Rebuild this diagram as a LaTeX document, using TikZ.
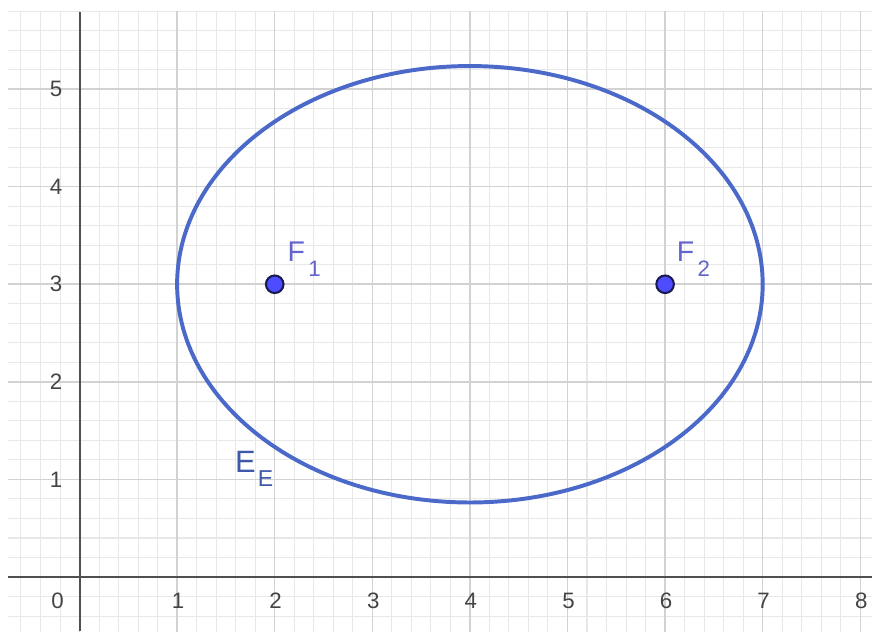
\documentclass[tikz,border=0pt]{standalone}
\usepackage{fontspec}
\setmainfont{Liberation Sans}
\definecolor{gridmajor}{HTML}{D2D2D2}
\definecolor{gridminor}{HTML}{E8E8E8}
\definecolor{axisgray}{HTML}{505050}
\definecolor{labelgray}{HTML}{444444}
\definecolor{conicblue}{HTML}{4A69C8}
\definecolor{ptfill}{HTML}{4D4DFF}
\definecolor{ptdraw}{HTML}{1A1A50}
\definecolor{ptlabelcol}{HTML}{6464CC}
\tikzset{
  majorgrid/.style={draw=gridmajor, line width=0.45pt},
  minorgrid/.style={draw=gridminor, line width=0.3pt},
  axisline/.style={draw=axisgray, line width=0.6pt},
  ticklabel/.style={text=labelgray, font=\fontsize{6.5}{7}\selectfont, inner sep=0pt},
  focuspt/.style={circle, fill=ptfill, draw=ptdraw, line width=0.6pt, minimum size=0.18cm, inner sep=0pt},
  ptlabel/.style={inner sep=0pt, anchor=base west}
}
\begin{document}
\begin{tikzpicture}
    \useasboundingbox (-0.815,-0.556) rectangle (8.12,5.913);

    % grid, 5 subdivisions per unit
    \begin{scope}
        \clip (-0.733,-0.556) rectangle (8.12,5.79);
        \draw[minorgrid] (-1,-1) grid[step=0.2] (9,6);
        \draw[majorgrid] (-1,-1) grid[step=1] (9,6);
    \end{scope}

    % axes
    \coordinate (xl) at (-0.733,0);
    \coordinate (xr) at (8.12,0);
    \coordinate (yb) at (0,-0.556);
    \coordinate (yt) at (0,5.79);
    \draw[axisline] (xl) -- (xr);
    \draw[axisline] (yb) -- (yt);

    % tick labels
    \node[ticklabel] (lab0) at (-0.225,-0.244) {0};
    \foreach \x in {1,...,8}
        \node[ticklabel] (xlab\x) at (\x+0.01,-0.244) {\x};
    \foreach \y in {1,...,5}
        \node[ticklabel, anchor=east] (ylab\y) at (-0.17,\y) {\y};

    % ellipse E_E with foci (2,3) and (6,3)
    \draw[conicblue, line width=1.15pt] (4,3) ellipse [x radius=3, y radius=2.236];
    \node[ptlabel, text=conicblue!85!black, font=\fontsize{9}{10}\selectfont] (EElab) at (1.586,1.071)
        {E\hspace{0.65pt}\raisebox{-4pt}{\fontsize{6.7}{7}\selectfont E}};

    % foci
    \node[focuspt] (F1) at (2,3) {};
    \node[focuspt] (F2) at (6,3) {};
    \node[ptlabel, text=ptlabelcol, font=\fontsize{8.3}{9}\selectfont] (F1lab) at (2.124,3.23)
        {F\hspace{1pt}\raisebox{-4.2pt}{\fontsize{6.5}{7}\selectfont 1}};
    \node[ptlabel, text=ptlabelcol, font=\fontsize{8.3}{9}\selectfont] (F2lab) at (6.113,3.23)
        {F\hspace{1pt}\raisebox{-4.2pt}{\fontsize{6.5}{7}\selectfont 2}};
\end{tikzpicture}
\end{document}
